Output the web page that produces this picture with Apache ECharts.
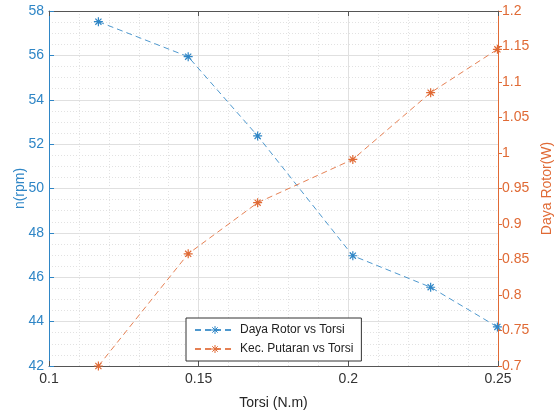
<!DOCTYPE html>
<html>
<head>
<meta charset="utf-8">
<script src="https://cdn.jsdelivr.net/npm/echarts@6/dist/echarts.min.js"></script>
<style>
  html, body { margin: 0; padding: 0; background: #fff; }
  #chart { width: 555px; height: 416px; }
</style>
</head>
<body>
<div id="chart"></div>
<script>
// Torque (N.m) at each measurement
const torsi = [0.1165, 0.1465, 0.1697, 0.2015, 0.2275, 0.2498];
// Rotor speed n (rpm), left axis
const putaran = [57.52, 55.94, 52.37, 46.97, 45.55, 43.76];
// Rotor power (W), right axis
const daya = [0.700, 0.858, 0.930, 0.991, 1.085, 1.146];

const legendNames = ['Daya Rotor vs Torsi', 'Kec. Putaran vs Torsi'];

const BLUE = '#2f86c6';
const ORANGE = '#e06a35';
const FONT = 'Liberation Sans, Arial, sans-serif';

// MATLAB-style asterisk marker
const asterisk = 'path://M5,0L5,10M0,5L10,5M1.6,1.6L8.4,8.4M1.6,8.4L8.4,1.6';

const pairs = (xs, ys) => xs.map((x, i) => [x, ys[i]]);

const chart = echarts.init(document.getElementById('chart'), null, { renderer: 'canvas' });

chart.setOption({
  backgroundColor: '#fff',
  animation: false,
  textStyle: { fontFamily: FONT },
  grid: { left: 49, right: 57, top: 11, bottom: 50, containLabel: false, outerBoundsMode: 'none' },
  legend: {
    orient: 'vertical',
    left: 186,
    top: 318,
    width: 176,
    padding: [6, 8, 6, 8],
    itemGap: 7,
    itemWidth: 40,
    itemHeight: 10,
    backgroundColor: '#fff',
    borderColor: '#333',
    borderWidth: 1,
    itemStyle: { borderWidth: 1 },
    textStyle: { fontFamily: FONT, fontSize: 12, color: '#222' },
    data: legendNames
  },
  xAxis: [{
    type: 'value',
    min: 0.1, max: 0.25, interval: 0.05,
    name: 'Torsi (N.m)',
    nameLocation: 'middle',
    nameGap: 30,
    nameTextStyle: { fontFamily: FONT, fontSize: 14, color: '#262626' },
    axisLine: { show: true, onZero: false, lineStyle: { color: '#555', width: 1 } },
    axisTick: { show: true, inside: true, length: 5, lineStyle: { color: '#555' } },
    axisLabel: { fontFamily: FONT, fontSize: 14, color: '#333', margin: 6,
      formatter: v => String(+v.toFixed(2)) },
    splitLine: { show: true, lineStyle: { color: '#e0e0e0', width: 1 } },
    minorTick: { show: false, splitNumber: 5 },
    minorSplitLine: { show: true, lineStyle: { color: '#e2e2e2', type: [1, 2] } }
  }, {
    type: 'value',
    position: 'top',
    min: 0.1, max: 0.25, interval: 0.05,
    axisLine: { show: true, onZero: false, lineStyle: { color: '#555', width: 1 } },
    axisTick: { show: true, inside: true, length: 5, lineStyle: { color: '#555' } },
    axisLabel: { show: false },
    splitLine: { show: false }
  }],
  yAxis: [{
    type: 'value',
    position: 'left',
    min: 42, max: 58, interval: 2,
    name: 'n(rpm)',
    nameLocation: 'middle',
    nameGap: 22,
    nameMoveOverlap: false,
    nameTextStyle: { fontFamily: FONT, fontSize: 14, color: BLUE },
    axisLine: { show: true, onZero: false, lineStyle: { color: BLUE, width: 1 } },
    axisTick: { show: true, inside: true, length: 5, lineStyle: { color: BLUE } },
    axisLabel: { fontFamily: FONT, fontSize: 14, color: BLUE, margin: 5 },
    splitLine: { show: true, lineStyle: { color: '#e0e0e0', width: 1 } },
    minorTick: { show: false, splitNumber: 4 },
    minorSplitLine: { show: true, lineStyle: { color: '#e2e2e2', type: [1, 2] } }
  }, {
    type: 'value',
    position: 'right',
    min: 0.7, max: 1.2, interval: 0.05,
    name: 'Daya Rotor(W)',
    nameLocation: 'middle',
    nameRotate: 90,
    nameGap: 40,
    nameTextStyle: { fontFamily: FONT, fontSize: 14, color: ORANGE },
    axisLine: { show: true, onZero: false, lineStyle: { color: ORANGE, width: 1 } },
    axisTick: { show: true, inside: false, length: 4, lineStyle: { color: ORANGE } },
    axisLabel: { fontFamily: FONT, fontSize: 14, color: ORANGE, margin: 4,
      formatter: v => String(+v.toFixed(2)) },
    splitLine: { show: false }
  }],
  series: [{
    name: legendNames[0],
    type: 'line',
    xAxisIndex: 0,
    yAxisIndex: 0,
    data: pairs(torsi, putaran),
    symbol: asterisk,
    symbolSize: 9,
    itemStyle: { color: 'transparent', borderColor: BLUE, borderWidth: 1.2 },
    lineStyle: { color: BLUE, width: 1, type: [6, 4], opacity: 0.85 },
    z: 3
  }, {
    name: legendNames[1],
    type: 'line',
    xAxisIndex: 0,
    yAxisIndex: 1,
    data: pairs(torsi, daya),
    symbol: asterisk,
    symbolSize: 9,
    itemStyle: { color: 'transparent', borderColor: ORANGE, borderWidth: 1.2 },
    lineStyle: { color: ORANGE, width: 1, type: [6, 4], opacity: 0.85 },
    z: 3
  }]
});
</script>
</body>
</html>
